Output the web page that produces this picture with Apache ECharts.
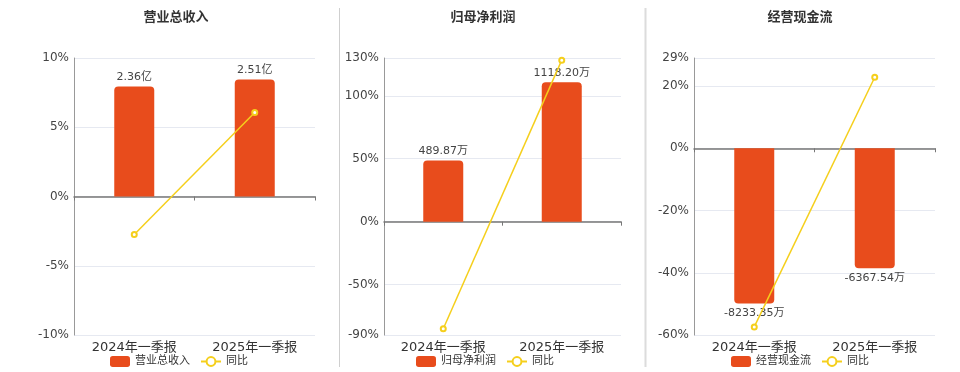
<!DOCTYPE html>
<html>
<head>
<meta charset="utf-8">
<script src="https://cdn.jsdelivr.net/npm/echarts@6/dist/echarts.min.js"></script>
<style>
html,body{margin:0;padding:0;background:#fff;}
#c{width:960px;height:372px;}
</style>
</head>
<body>
<div id="c"></div>
<script>
const categories = ['2024年一季报', '2025年一季报'];
const titles = ['营业总收入', '归母净利润', '经营现金流'];
const barNames = ['营业总收入', '归母净利润', '经营现金流'];
const units = ['亿', '万', '万'];
const revenue = [2.36, 2.51];
const revenueYoY = [-2.74, 6.07];
const profit = [489.87, 1118.20];
const profitYoY = [-85.0, 128.3];
const cashflow = [-8233.35, -6367.54];
const cashflowYoY = [-57.4, 22.8];
const yoyName = '同比';

const barData = [revenue, profit, cashflow];
const yoyData = [revenueYoY, profitYoY, cashflowYoY];
const yoyMin = [-10, -90, -60];
const yoyMax = [10, 130, 29];
const barScale = [0.297, 10.1, 165];

const FONT = 'DejaVu Sans, Noto Sans CJK SC, sans-serif';
const gridLeft = [74, 384, 694];
const gridWidth = [241, 237, 241];
const titleCenter = [176, 483, 800];
const legendLeft = [110, 416, 731];
const BAR = '#e84c1c';
const LINE = '#f5cf1c';

const option = {
  animation: false,
  textStyle: { fontFamily: FONT },
  title: [], grid: [], xAxis: [], yAxis: [], series: [], legend: [],
  graphic: [
    { type: 'line', shape: { x1: 339.5, y1: 8, x2: 339.5, y2: 367 }, style: { stroke: '#cfcfcf', lineWidth: 1 } },
    { type: 'line', shape: { x1: 645.5, y1: 8, x2: 645.5, y2: 367 }, style: { stroke: '#dcdcdc', lineWidth: 2 } }
  ]
};

for (let i = 0; i < 3; i++) {
  option.title.push({
    text: titles[i], left: titleCenter[i], top: 11, textAlign: 'center', padding: 0,
    textStyle: { fontSize: 13, fontWeight: 'bold', color: '#333', fontFamily: FONT }
  });
  option.grid.push({ left: gridLeft[i], width: gridWidth[i], top: 58, height: 277 });
  option.xAxis.push({
    type: 'category', gridIndex: i, data: categories, position: 'bottom',
    axisLine: { onZero: true, lineStyle: { color: '#777', width: 1.5 } },
    axisTick: { show: true, length: 4, lineStyle: { color: '#777' } },
    axisLabel: { show: false }, splitLine: { show: false }
  });
  option.xAxis.push({
    type: 'category', gridIndex: i, data: categories, position: 'bottom',
    axisLine: { show: false, onZero: false }, axisTick: { show: false },
    axisLabel: { show: true, color: '#333', fontSize: 13, margin: 6, fontFamily: FONT },
    splitLine: { show: false }
  });
  option.yAxis.push({
    type: 'value', gridIndex: i, min: yoyMin[i], max: yoyMax[i],
    axisLine: { show: true, lineStyle: { color: '#999', width: 1 } },
    axisTick: { show: false },
    axisLabel: { formatter: '{value}%', color: '#444', fontSize: 12, margin: 5, fontFamily: FONT },
    splitLine: { show: true, lineStyle: { color: '#e6e9f1', width: 1 } }
  });
  option.yAxis.push({
    type: 'value', gridIndex: i, show: false,
    min: yoyMin[i] * barScale[i], max: yoyMax[i] * barScale[i],
    splitLine: { show: false }
  });
  const u = units[i];
  option.series.push({
    name: barNames[i], type: 'bar', xAxisIndex: 2 * i, yAxisIndex: 2 * i + 1,
    barWidth: 40,
    data: barData[i].map(v => ({
      value: v,
      itemStyle: { borderRadius: v >= 0 ? [4, 4, 0, 0] : [0, 0, 4, 4] },
      label: { position: v >= 0 ? 'top' : 'bottom' }
    })),
    itemStyle: { color: BAR },
    label: {
      show: true, color: '#444', fontSize: 11, distance: 4, fontFamily: FONT,
      formatter: p => p.value.toFixed(2) + u
    },
    z: 2
  });
  option.series.push({
    name: yoyName, type: 'line', xAxisIndex: 2 * i, yAxisIndex: 2 * i,
    data: yoyData[i], symbol: 'emptyCircle', symbolSize: 5,
    lineStyle: { color: LINE, width: 1.5 },
    itemStyle: { color: LINE, borderColor: LINE, borderWidth: 1.5 },
    z: 3
  });
  option.legend.push({
    left: legendLeft[i], top: 356, padding: 0, itemGap: 10, itemWidth: 20, itemHeight: 11,
    data: [{ name: barNames[i], icon: 'roundRect' }, { name: yoyName }],
    textStyle: { fontSize: 11, color: '#333', fontFamily: FONT }
  });
}

const chart = echarts.init(document.getElementById('c'), null, { renderer: 'canvas' });
chart.setOption(option);
</script>
</body>
</html>
